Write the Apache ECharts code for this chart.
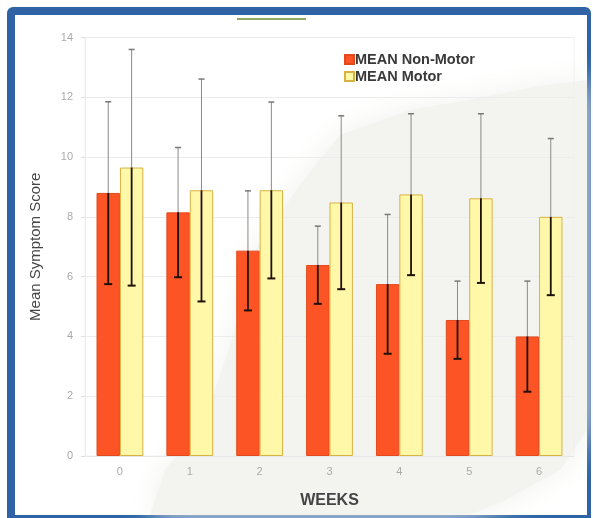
<!DOCTYPE html>
<html>
<head>
<meta charset="utf-8">
<script src="https://cdn.jsdelivr.net/npm/echarts@6/dist/echarts.min.js"></script>
<style>
  html, body { margin: 0; padding: 0; background: #ffffff; }
  #chart { width: 593px; height: 518px; }
</style>
</head>
<body>
<div id="chart"></div>
<script>
// Weekly mean symptom scores with standard deviation whiskers
var weeks = ['0', '1', '2', '3', '4', '5', '6'];
var nonMotorMean = [8.8, 8.15, 6.87, 6.39, 5.75, 4.55, 4.0];
var nonMotorErr  = [3.05, 2.17, 2.0, 1.3, 2.33, 1.3, 1.85];
var motorMean    = [9.65, 8.89, 8.89, 8.48, 8.75, 8.62, 8.0];
var motorErr     = [3.95, 3.72, 2.95, 2.9, 2.7, 2.83, 2.62];
var yTicks = { min: 0, max: 14, interval: 2 };

var RED = '#fd5425';
var YELLOW = '#fff8a8';
var CATEGORY_GAP = 0.33;

function errorData(means, errs) {
  return means.map(function (m, i) { return [i, m, m - errs[i], m + errs[i]]; });
}

// side: -1 for the left bar of a pair, +1 for the right bar
function errorRenderer(side) {
  return function (params, api) {
    var idx = api.value(0);
    var band = api.size([1, 0])[0];
    var barW = band * (1 - CATEGORY_GAP) / 2;
    var c = api.coord([idx, api.value(1)]);
    var lo = api.coord([idx, api.value(2)]);
    var hi = api.coord([idx, api.value(3)]);
    var x = c[0] + side * barW / 2;
    var capUp = 3, capLo = 4;
    return {
      type: 'group',
      children: [
        { type: 'line', shape: { x1: x, y1: c[1], x2: x, y2: hi[1] },
          style: { stroke: '#8a8a8a', lineWidth: 1 } },
        { type: 'line', shape: { x1: x - capUp, y1: hi[1], x2: x + capUp, y2: hi[1] },
          style: { stroke: '#777', lineWidth: 1.5 } },
        { type: 'line', shape: { x1: x, y1: c[1], x2: x, y2: lo[1] },
          style: { stroke: '#1e1208', lineWidth: 1.8 } },
        { type: 'line', shape: { x1: x - capLo, y1: lo[1], x2: x + capLo, y2: lo[1] },
          style: { stroke: '#1e1208', lineWidth: 2 } }
      ]
    };
  };
}

var chart = echarts.init(document.getElementById('chart'), null, { renderer: 'canvas' });

chart.setOption({
  animation: false,
  backgroundColor: '#ffffff',
  graphic: [
    // frame
    { type: 'rect', z: -30, shape: { x: 7, y: 7, width: 584, height: 520, r: [6, 6, 0, 0] },
      style: { fill: '#2f63a5' } },
    { type: 'rect', z: -29, shape: { x: 15, y: 15, width: 572, height: 500 },
      style: { fill: '#ffffff' } },
    // faded backdrop shape
    { type: 'polygon', z: -28,
      shape: { points: [[150, 515], [165, 470], [205, 420], [232, 340], [252, 255], [300, 185],
                        [340, 135], [410, 110], [480, 98], [540, 86], [587, 80], [587, 430],
                        [560, 470], [505, 500], [470, 515]] },
      style: { fill: '#f3f3f0', shadowBlur: 30, shadowColor: '#f1f1ed' } },
    // short rule above the plot
    { type: 'line', z: -27, shape: { x1: 237, y1: 19, x2: 306, y2: 19 },
      style: { stroke: '#6b8f2c', lineWidth: 1.5 } }
  ],
  grid: {
    left: 85, right: 19, top: 37.5, bottom: 62,
    show: true, borderColor: '#f0f0f0', borderWidth: 1, backgroundColor: 'transparent'
  },
  legend: {
    orient: 'vertical',
    left: 339, top: 47,
    itemWidth: 9, itemHeight: 9, itemGap: 2,
    icon: 'rect',
    textStyle: { fontFamily: 'Liberation Sans, Arial, sans-serif', fontSize: 14.5, fontWeight: 'bold',
                 color: '#3a3a3a', padding: [0, 0, 0, -4] },
    data: ['MEAN Non-Motor', 'MEAN Motor']
  },
  xAxis: {
    type: 'category',
    data: weeks,
    name: 'WEEKS',
    nameLocation: 'middle',
    nameGap: 37,
    nameTextStyle: { fontFamily: 'Liberation Sans, Arial, sans-serif', fontSize: 16,
                     fontWeight: 'bold', color: '#444' },
    axisLine: { lineStyle: { color: '#e8e8e8' } },
    axisTick: { show: false },
    axisLabel: { color: '#aaa', fontSize: 11, margin: 10,
                 fontFamily: 'Liberation Sans, Arial, sans-serif' }
  },
  yAxis: {
    type: 'value',
    min: yTicks.min, max: yTicks.max, interval: yTicks.interval,
    name: 'Mean Symptom Score',
    nameLocation: 'middle',
    nameGap: 42,
    nameTextStyle: { fontFamily: 'Liberation Sans, Arial, sans-serif', fontSize: 15, color: '#454545' },
    axisLine: { show: true, lineStyle: { color: '#ececec' } },
    axisTick: { show: true, length: 4, lineStyle: { color: '#ddd' } },
    splitLine: { lineStyle: { color: '#ececec' } },
    axisLabel: { color: '#aaa', fontSize: 11, margin: 12,
                 fontFamily: 'Liberation Sans, Arial, sans-serif' }
  },
  series: [
    {
      name: 'MEAN Non-Motor', type: 'bar', data: nonMotorMean,
      barGap: '0%', barCategoryGap: (CATEGORY_GAP * 100) + '%',
      itemStyle: { color: RED, borderColor: '#e24a1c', borderWidth: 1 }
    },
    {
      name: 'MEAN Motor', type: 'bar', data: motorMean,
      itemStyle: { color: YELLOW, borderColor: '#d8b243', borderWidth: 1 }
    },
    {
      type: 'custom', name: 'Non-Motor SD', z: 5,
      renderItem: errorRenderer(-1),
      encode: { x: 0, y: [1, 2, 3] },
      data: errorData(nonMotorMean, nonMotorErr)
    },
    {
      type: 'custom', name: 'Motor SD', z: 5,
      renderItem: errorRenderer(1),
      encode: { x: 0, y: [1, 2, 3] },
      data: errorData(motorMean, motorErr)
    }
  ]
});
</script>
</body>
</html>
